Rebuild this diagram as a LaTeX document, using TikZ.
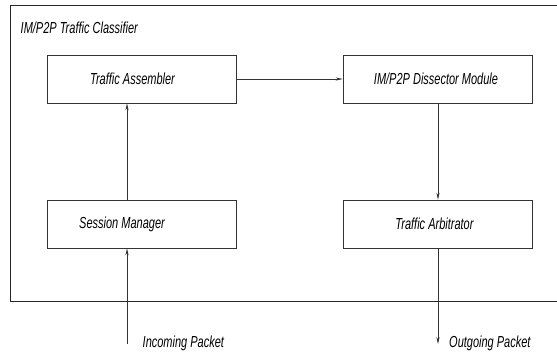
\documentclass[tikz,border=0pt]{standalone}
\usepackage{graphicx}
\usepackage{fontspec}
\setmainfont{Liberation Sans}
\usetikzlibrary{arrows.meta}
\newcommand\vstr[1]{\scalebox{1}[1.45]{#1}}
\begin{document}
\begin{tikzpicture}[x=1pt,y=-1pt,
  every node/.style={font=\itshape\fontsize{11}{13}\selectfont},
  module/.style={draw=black!80, line width=0.7pt, minimum width=189pt, minimum height=48pt, inner sep=0pt},
  flow/.style={draw=black!80, line width=0.7pt, -{Stealth[length=7pt,width=3.2pt]}},
  lbl/.style={anchor=west, inner sep=0pt}]
\useasboundingbox (0,0) rectangle (557,352);
\draw[line width=1pt, black!85] (10,6) rectangle (565,302);
\node[lbl] (title) at (20.5,28) {\vstr{IM/P2P Traffic Classifier}};
\node[module] (ta) at (141.5,79) {\hspace*{-18pt}\vstr{Traffic Assembler}};
\node[module] (dm) at (437.5,79) {\hspace*{-3pt}\vstr{IM/P2P Dissector Module}};
\node[module] (sm) at (141.5,224) {\hspace*{-39pt}\vstr{Session Manager}};
\node[module] (arb) at (437.5,224) {\hspace*{-6pt}\vstr{Traffic Arbitrator}};
\coordinate (in) at (127,344);
\coordinate (out) at (438,344);
\node[lbl] (inl) at (142.5,343) {\vstr{Incoming Packet}};
\node[lbl] (outl) at (449,343) {\vstr{Outgoing Packet}};
\draw[flow] (ta.east) -- (dm.west);
\draw[flow] (sm.north -| in) -- (ta.south -| in);
\draw[flow] (dm.south -| out) -- (arb.north -| out);
\draw[flow] (in) -- (sm.south -| in);
\draw[flow] (arb.south -| out) -- (out);
\end{tikzpicture}
\end{document}
